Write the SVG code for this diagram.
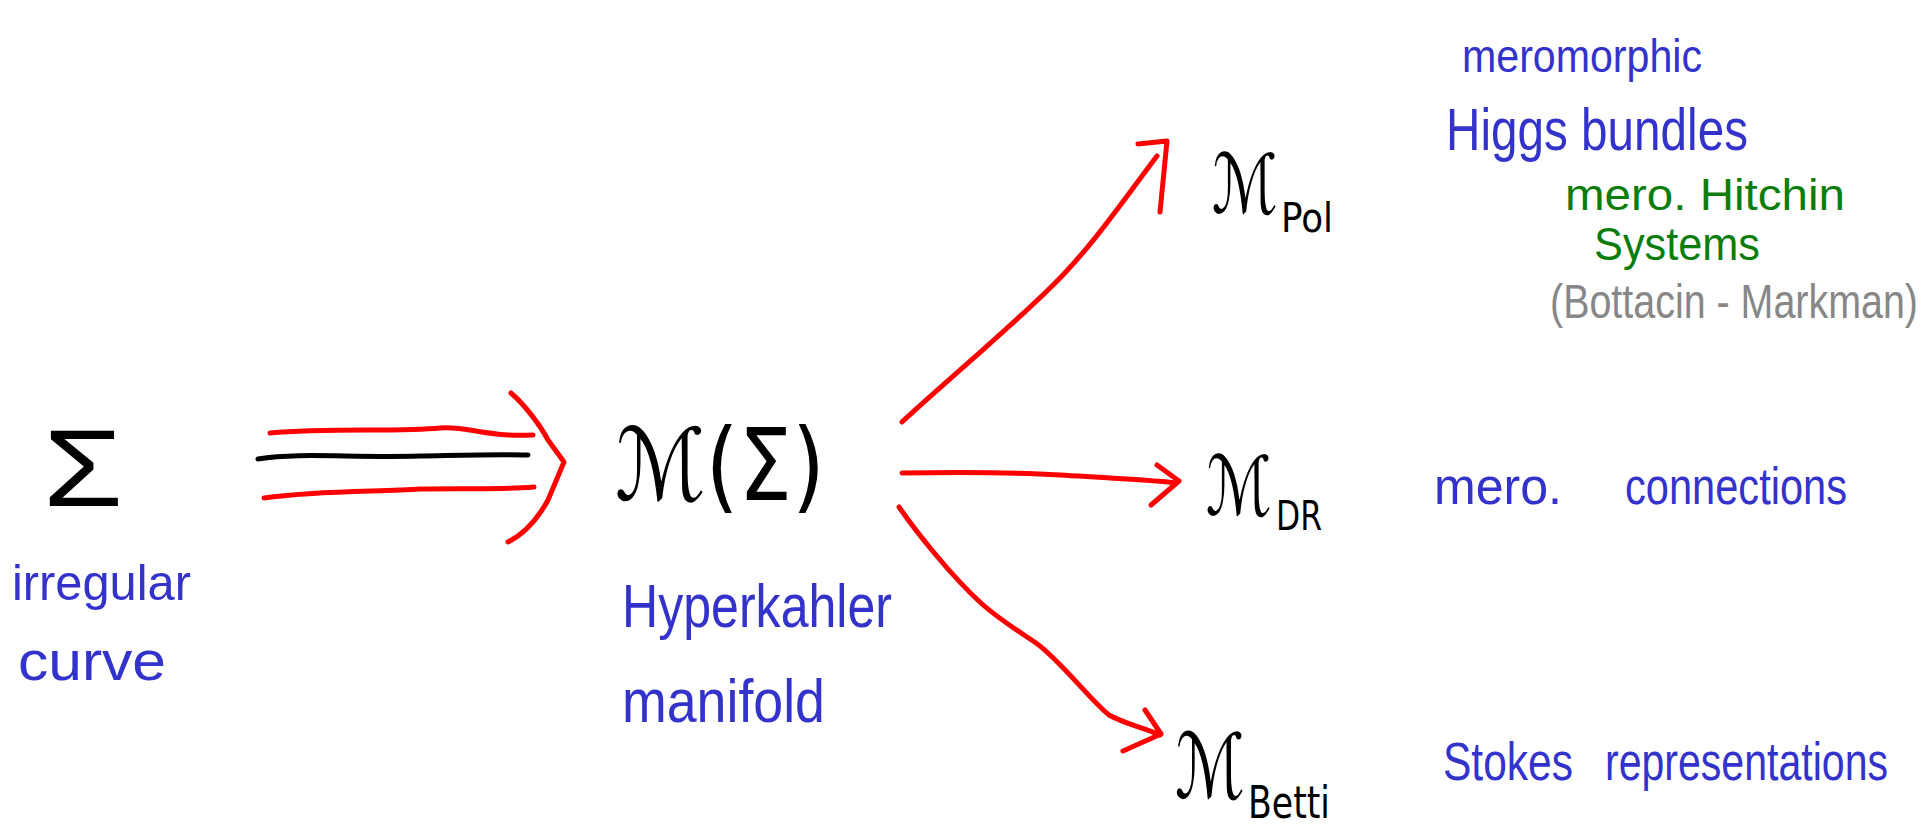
<svg xmlns="http://www.w3.org/2000/svg" width="1930" height="828" viewBox="0 0 1930 828">
<style>
.bg{fill:#ffffff}
.red{fill:none;stroke:#ff0000;stroke-width:5;stroke-linecap:round;stroke-linejoin:round}
.blk{fill:none;stroke:#000000;stroke-width:5;stroke-linecap:round;stroke-linejoin:round}
.math{font-family:"DejaVu Sans","Liberation Serif",serif;fill:#000000}
.sig{font-family:"Liberation Sans","DejaVu Sans",sans-serif;fill:#000000}
.blue{font-family:"Liberation Sans","DejaVu Sans",sans-serif;fill:#3333cc}
.green{font-family:"Liberation Sans","DejaVu Sans",sans-serif;fill:#0b7d0b}
.gray{font-family:"Liberation Sans","DejaVu Sans",sans-serif;fill:#878787}
</style>
<rect class="bg" x="0" y="0" width="1930" height="828"/>
<g id="connectors">
  <path class="red" d="M270,433 C330,428 400,432 440,428 C470,426 482,437 533,435"/>
  <path class="blk" d="M258,459 C300,452 350,458 420,456 C470,455 500,454 528,455"/>
  <path class="red" d="M264,498 C320,490 380,492 420,489 C470,488 500,490 534,487"/>
  <path class="red" d="M511,393 C525,405 540,425 548,440 L564,462 L548,500 C536,522 522,535 508,542"/>
  <path class="red" d="M902,422 C950,378 1005,332 1048,290 C1090,250 1125,198 1157,156"/>
  <path class="red" d="M1138,144 L1167,141 L1160,212"/>
  <path class="red" d="M902,473 C960,472 1010,472 1060,475 C1110,478 1150,480 1176,483"/>
  <path class="red" d="M1157,465 L1179,481 L1151,505"/>
  <path class="red" d="M899,507 C915,530 950,575 982,604 C1000,620 1020,632 1036,643 C1060,660 1090,700 1109,715 C1125,724 1145,728 1160,735"/>
  <path class="red" d="M1145,710 L1161,734 L1123,751"/>
</g>
<g id="sigma">
  <text class="sig" x="43" y="506" font-size="110" textLength="80" lengthAdjust="spacingAndGlyphs">Σ</text>
  <text class="blue" x="12" y="600" font-size="50" textLength="179" lengthAdjust="spacingAndGlyphs">irregular</text>
  <text class="blue" x="18" y="680" font-size="56" textLength="148" lengthAdjust="spacingAndGlyphs">curve</text>
</g>
<g id="moduli">
  <text class="math" x="615" y="500" font-size="100" textLength="210" lengthAdjust="spacingAndGlyphs">ℳ(Σ)</text>
  <text class="blue" x="622" y="627" font-size="62" textLength="270" lengthAdjust="spacingAndGlyphs">Hyperkahler</text>
  <text class="blue" x="622" y="722" font-size="62" textLength="203" lengthAdjust="spacingAndGlyphs">manifold</text>
</g>
<g id="m-pol">
  <text class="math" x="1212" y="213" font-size="82" textLength="66" lengthAdjust="spacingAndGlyphs">ℳ</text>
  <text class="math" x="1281" y="232" font-size="40" textLength="52" lengthAdjust="spacingAndGlyphs">Pol</text>
  <text class="blue" x="1462" y="72" font-size="46" textLength="240" lengthAdjust="spacingAndGlyphs">meromorphic</text>
  <text class="blue" x="1446" y="150" font-size="60" textLength="302" lengthAdjust="spacingAndGlyphs">Higgs bundles</text>
  <text class="green" x="1565" y="210" font-size="44" textLength="280" lengthAdjust="spacingAndGlyphs">mero. Hitchin</text>
  <text class="green" x="1594" y="260" font-size="46" textLength="166" lengthAdjust="spacingAndGlyphs">Systems</text>
  <text class="gray" x="1550" y="318" font-size="48" textLength="368" lengthAdjust="spacingAndGlyphs">(Bottacin - Markman)</text>
</g>
<g id="m-dr">
  <text class="math" x="1206" y="515" font-size="82" textLength="66" lengthAdjust="spacingAndGlyphs">ℳ</text>
  <text class="math" x="1276" y="530" font-size="40" textLength="46" lengthAdjust="spacingAndGlyphs">DR</text>
  <text class="blue" x="1434" y="504" font-size="52" textLength="128" lengthAdjust="spacingAndGlyphs">mero.</text>
  <text class="blue" x="1625" y="504" font-size="52" textLength="222" lengthAdjust="spacingAndGlyphs">connections</text>
</g>
<g id="m-betti">
  <text class="math" x="1175" y="798" font-size="90" textLength="70" lengthAdjust="spacingAndGlyphs">ℳ</text>
  <text class="math" x="1248" y="818" font-size="44" textLength="82" lengthAdjust="spacingAndGlyphs">Betti</text>
  <text class="blue" x="1443" y="780" font-size="54" textLength="130" lengthAdjust="spacingAndGlyphs">Stokes</text>
  <text class="blue" x="1605" y="780" font-size="54" textLength="283" lengthAdjust="spacingAndGlyphs">representations</text>
</g>
</svg>
